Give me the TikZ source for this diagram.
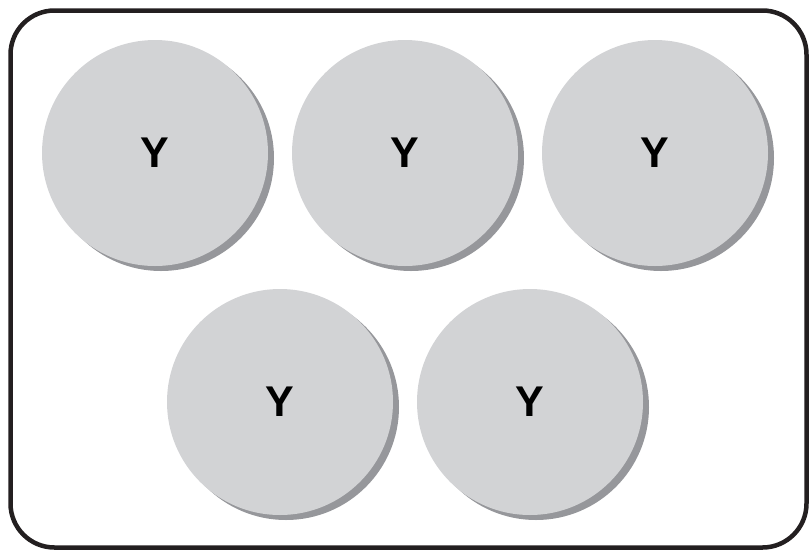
\documentclass[tikz,border=0pt]{standalone}
\usepackage{fontspec}
\setmainfont{Liberation Sans}
\usetikzlibrary{shadows}
\definecolor{discgray}{RGB}{210,211,213}
\definecolor{shadegray}{RGB}{150,151,155}
\definecolor{framecol}{RGB}{35,31,32}
\begin{document}
\begin{tikzpicture}[x=1pt, y=-1pt, node distance=250pt, disc/.style={circle, fill=discgray, minimum size=226pt, inner sep=0pt, font=\fontsize{43}{43}\selectfont\bfseries, general shadow={fill=shadegray, shadow xshift=6pt, shadow yshift=-5pt}}]
    \useasboundingbox (0,0) rectangle (809,550);
    \draw[framecol, line width=4.5pt, rounded corners=44pt] (10.5,10.5) rectangle (806.5,547.5);

    \node[disc] (topleft) at (155,153) {Y};
    \node[disc, right of=topleft] (topmid) {Y};
    \node[disc, right of=topmid] (topright) {Y};

    \node[disc] (botleft) at (280,402) {Y};
    \node[disc, right of=botleft] (botright) {Y};
  \end{tikzpicture}
\end{document}
